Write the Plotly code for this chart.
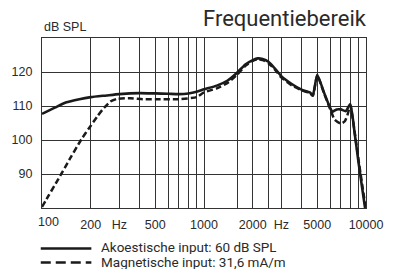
import plotly.graph_objects as go

# ---- data ----
freq_solid = [100, 120, 140, 170, 200, 250, 300, 400, 500, 600, 700, 800, 900, 1000, 1200, 1400,
              1600, 1800, 2000, 2150, 2300, 2500, 2800, 3000, 3500, 4000, 4500, 4700, 5000, 5500,
              6000, 6200, 6600, 7000, 7500, 8000, 8500, 9000, 9500, 9870]
db_solid = [107.7, 109.5, 111.0, 112.0, 112.6, 113.1, 113.5, 113.8, 113.7, 113.6, 113.5, 113.7, 114.2,
            114.9, 116.0, 117.5, 119.8, 122.2, 123.5, 124.0, 123.8, 123.0, 120.5, 118.8, 116.4, 114.8,
            114.0, 113.2, 119.2, 114.0, 109.5, 108.3, 109.0, 109.0, 108.5, 110.6, 102.2, 93.3, 85.4, 80.0]

freq_dash = [100, 110, 125, 150, 175, 200, 220, 236, 264, 290, 350, 420, 500, 700, 900, 1000, 1200,
             1400, 1600, 1800, 2000, 2150, 2300, 2500, 2800, 3000, 3500, 4000, 4500, 4700, 5000, 5500,
             6000, 6400, 7000, 7400, 7700, 8000, 8500, 9000, 9500, 9950]
db_dash = [80.3, 83.7, 88.2, 94.8, 100.2, 104.2, 107.0, 108.9, 111.3, 112.1, 112.3, 112.0, 112.0, 112.0,
           112.6, 114.0, 115.2, 116.8, 119.2, 121.8, 123.3, 123.8, 123.5, 122.6, 120.2, 118.4, 116.0,
           114.6, 113.8, 113.0, 119.0, 113.8, 109.2, 106.0, 104.8, 105.5, 107.5, 110.2, 102.5, 94.0, 86.5, 80.0]

grid_x = [100, 200, 300, 400, 500, 600, 700, 800, 900, 1000, 1600, 2000, 2500, 3000, 4000, 5000,
          6000, 7000, 8000, 9000, 10000]
x_labels = {100: "100", 200: "200", 300: "Hz", 500: "500", 1000: "1000", 2000: "2000",
            3000: "Hz", 5000: "5000", 10000: "10000"}
y_ticks = [90, 100, 110, 120]

legend_labels = ["Akoestische input: 60 dB SPL", "Magnetische input: 31,6 mA/m"]
title_text = "Frequentiebereik"
y_unit = "dB SPL"

W, H = 395, 277
L, R, T, B = 38.3, 17.3, 37.9, 68.6
pw, ph = W - L - R, H - T - B


def px(x):
    return (x - L) / pw


def py(y):
    return (H - B - y) / ph


tick_font = dict(family="Liberation Sans Narrow, Arial Narrow, Arial", size=12.5, color="#2a2a2a")
din_font = "Roboto, Open Sans, sans-serif"

fig = go.Figure()
fig.add_trace(go.Scatter(x=freq_solid, y=db_solid, mode="lines", showlegend=False,
                         line=dict(color="#1a1a1a", width=2.6, shape="spline", smoothing=0.5)))
fig.add_trace(go.Scatter(x=freq_dash, y=db_dash, mode="lines", showlegend=False,
                         line=dict(color="#1a1a1a", width=2.5, dash="6px,3px", shape="spline", smoothing=0.5)))

ticktext = [x_labels.get(v, "") if v != 100 else "" for v in grid_x]

fig.update_xaxes(type="log", range=[2, 4], tickvals=grid_x, ticktext=ticktext,
                 showgrid=True, gridcolor="#333333", gridwidth=1.2,
                 showline=True, linecolor="#333333", linewidth=1.2, mirror=True,
                 ticks="", tickfont=tick_font, ticklabelstandoff=5, zeroline=False,
                 ticklabeloverflow="allow")
fig.update_yaxes(range=[80, 130], tickvals=y_ticks, ticktext=[str(v) for v in y_ticks],
                 showgrid=True, gridcolor="#333333", gridwidth=1.2,
                 showline=True, linecolor="#333333", linewidth=1.2, mirror=True,
                 ticks="", tickfont=tick_font, ticklabelstandoff=6, zeroline=False)

annotations = [
    dict(x=2, y=-0.0, xref="x", yref="paper", text=x_labels[100], showarrow=False,
         xanchor="left", yanchor="top", yshift=-5, xshift=-6, font=tick_font),
    dict(x=px(38), y=py(27), xref="paper", yref="paper", text=y_unit, showarrow=False,
         xanchor="left", yanchor="middle", font=dict(family=tick_font["family"], size=12.5, color="#2a2a2a")),
    dict(x=px(381), y=py(18), xref="paper", yref="paper", text=title_text, showarrow=False,
         xanchor="right", yanchor="middle", font=dict(family=din_font, size=22, color="#2a2a2a")),
]
shapes = []
for lab, dash, ly, ty in zip(legend_labels, ["solid", "10px,5px"], [249, 263], [248, 263]):
    shapes.append(dict(type="line", xref="paper", yref="paper", x0=px(37), x1=px(90), y0=py(ly), y1=py(ly),
                       line=dict(color="#1a1a1a", width=2.5, dash=dash)))
    annotations.append(dict(x=px(99), y=py(ty), xref="paper", yref="paper", text=lab, showarrow=False,
                            xanchor="left", yanchor="middle", height=14, valign="middle", borderpad=0,
                            font=dict(family=din_font, size=13.5, color="#2a2a2a")))

fig.update_layout(width=W, height=H, margin=dict(l=L, r=R, t=T, b=B, pad=0),
                  paper_bgcolor="white", plot_bgcolor="white",
                  annotations=annotations, shapes=shapes, showlegend=False)

fig.write_html("out.html", config={"displayModeBar": False},
               post_script="document.body.style.margin='0';document.body.style.overflow='hidden';")
